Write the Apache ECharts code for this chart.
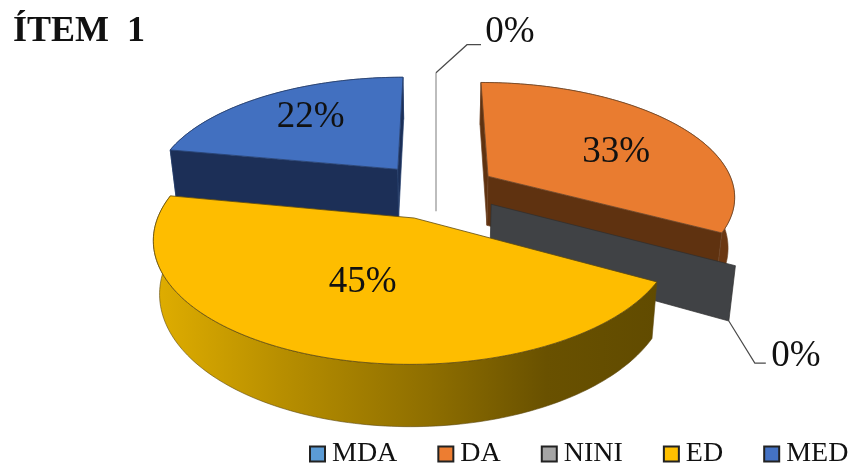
<!DOCTYPE html>
<html>
<head>
<meta charset="utf-8">
<style>html,body{margin:0;padding:0;background:#fff}#chart{width:851px;height:464px}</style>
<script src="https://cdn.jsdelivr.net/npm/echarts@6/dist/echarts.min.js"></script>
</head>
<body>
<div id="chart"></div>
<script>
// Survey answers for item 1, in percent
const categories = ['MDA', 'DA', 'NINI', 'ED', 'MED'];
const percents = [0, 33, 0, 45, 22];
const titleText = 'ÍTEM\u00A0\u00A01';

// Legend colour, top face, wall, rim and outline of each slice
const legendColors = ['#5B9BD5', '#ED7D31', '#A5A5A5', '#FFC000', '#4472C4'];
const topColors = ['#BDBDBD', '#E97C30', '#A5A5A5', '#FEBD00', '#4270C0'];
const wallColors = ['#BDBDBD', '#5F3210', '#404245', '#6B5200', '#1C2F57'];
const edgeColors = ['#BDBDBD', '#6E4526', '#2E2E2E', '#5E4A10', '#27406F'];
const rimFills = [
  '#BDBDBD',
  '#6B3712',
  '#404245',
  {
    type: 'linear', x: 0, y: 0, x2: 1, y2: 0,
    colorStops: [
      { offset: 0, color: '#E0AE00' },
      { offset: 0.25, color: '#B88F00' },
      { offset: 0.55, color: '#8E6E00' },
      { offset: 0.78, color: '#695100' },
      { offset: 1, color: '#614B00' }
    ]
  },
  '#1C2F57'
];
const paintOrder = [1, 2, 3, 5, 4];

// Camera of the tilted, exploded disc (disc radius = 1 in world units)
const originX = 436, originY = 190.4;
const scaleX = 247, scaleY = 113;
const perspective = 0.16, explode = 0.25;
const thickness = 50, taper = 0.022;

// Where each percentage sits: fraction of the radius plus a small nudge in pixels
const labelRadius = [1, 0.66, 1, 0.515, 0.68];
const labelNudge = [[0, 0], [0, 11], [0, 0], [-1, 0], [6, 0]];
// Leader lines of the empty slices: elbow, end and text offsets from the anchor point
const leaders = {
  0: { depth: 0, elbow: [31, -28], end: [45, -28], text: [74, -40] },
  2: { depth: 1, elbow: [26, 42], end: [37, 42], text: [67, 35] }
};
const labelFont = '37px "Liberation Serif"';

function project(u, v, depth) {
  const s = 1 / (1 + perspective * v);
  return [
    originX + scaleX * u * s * (1 - taper * depth),
    originY - scaleY * v * s + thickness * s * depth
  ];
}

function renderSlice(index) {
  return function (params, api) {
    const startPct = api.value(0);
    const value = api.value(1);
    const a0 = startPct * 3.6 * Math.PI / 180;
    const a1 = (startPct + value) * 3.6 * Math.PI / 180;
    const mid = (a0 + a1) / 2;
    const cu = explode * Math.sin(mid);
    const cv = explode * Math.cos(mid);
    const at = (a, r, depth) => project(cu + r * Math.sin(a), cv + r * Math.cos(a), depth);

    const children = [];
    const wall = (a) => ({
      type: 'polygon',
      shape: { points: [at(a, 0, 0), at(a, 1, 0), at(a, 1, 1), at(a, 0, 1)] },
      style: {
        fill: value > 0 ? wallColors[index] : rimFills[index],
        stroke: edgeColors[index],
        lineWidth: value > 0 || index !== 0 ? 0.7 : 2
      }
    });

    if (value > 0) {
      const steps = Math.max(8, Math.round(value * 3));
      const upper = [], lower = [];
      for (let i = 0; i <= steps; i++) {
        const a = a0 + (a1 - a0) * i / steps;
        upper.push(at(a, 1, 0));
        lower.push(at(a, 1, 1));
      }
      children.push({
        type: 'polygon',
        shape: { points: upper.concat(lower.slice().reverse()) },
        style: { fill: rimFills[index], stroke: edgeColors[index], lineWidth: 0.6 }
      });
      // Only the cut faces turned towards the viewer are painted
      if (-Math.sin(a0) >= -1e-9) children.push(wall(a0));
      if (Math.sin(a1) >= -1e-9) children.push(wall(a1));
      children.push({
        type: 'polygon',
        shape: { points: [at(a0, 0, 0)].concat(upper) },
        style: { fill: topColors[index], stroke: edgeColors[index], lineWidth: 0.8 }
      });
      const p = at(mid, labelRadius[index], 0);
      children.push({
        type: 'text',
        style: {
          text: value + '%',
          x: p[0] + labelNudge[index][0],
          y: p[1] + labelNudge[index][1],
          fill: '#111',
          font: labelFont,
          align: 'center',
          verticalAlign: 'middle'
        }
      });
    } else {
      children.push(wall(a0));
      const lead = leaders[index];
      const p = at(a0, 1, lead.depth);
      children.push({
        type: 'polyline',
        shape: {
          points: [p, [p[0] + lead.elbow[0], p[1] + lead.elbow[1]], [p[0] + lead.end[0], p[1] + lead.end[1]]]
        },
        style: { fill: 'none', stroke: '#4A4A4A', lineWidth: 1.2 }
      });
      children.push({
        type: 'text',
        style: {
          text: value + '%',
          x: p[0] + lead.text[0],
          y: p[1] + lead.text[1],
          fill: '#111',
          font: labelFont,
          align: 'center',
          verticalAlign: 'middle'
        }
      });
    }
    return { type: 'group', children };
  };
}

let running = 0;
const series = categories.map((name, i) => {
  const start = running;
  running += percents[i];
  return {
    name,
    type: 'custom',
    coordinateSystem: 'none',
    z: paintOrder[i],
    itemStyle: { color: legendColors[i] },
    renderItem: renderSlice(i),
    data: [[start, percents[i]]]
  };
});

const chart = echarts.init(document.getElementById('chart'), null, { renderer: 'canvas' });
chart.setOption({
  animation: false,
  backgroundColor: '#fff',
  title: {
    text: titleText,
    left: 13,
    top: 14,
    padding: 0,
    textStyle: { fontFamily: 'Liberation Serif', fontWeight: 'bold', fontSize: 36, color: '#111' }
  },
  legend: {
    data: categories,
    left: 309,
    top: 440,
    padding: 0,
    itemWidth: 15,
    itemHeight: 15,
    itemGap: 40,
    icon: 'rect',
    itemStyle: { borderColor: '#222', borderWidth: 2 },
    textStyle: { fontFamily: 'Liberation Serif', fontSize: 28, color: '#111', padding: [0, 0, 0, 2] }
  },
  series
});
</script>
</body>
</html>
